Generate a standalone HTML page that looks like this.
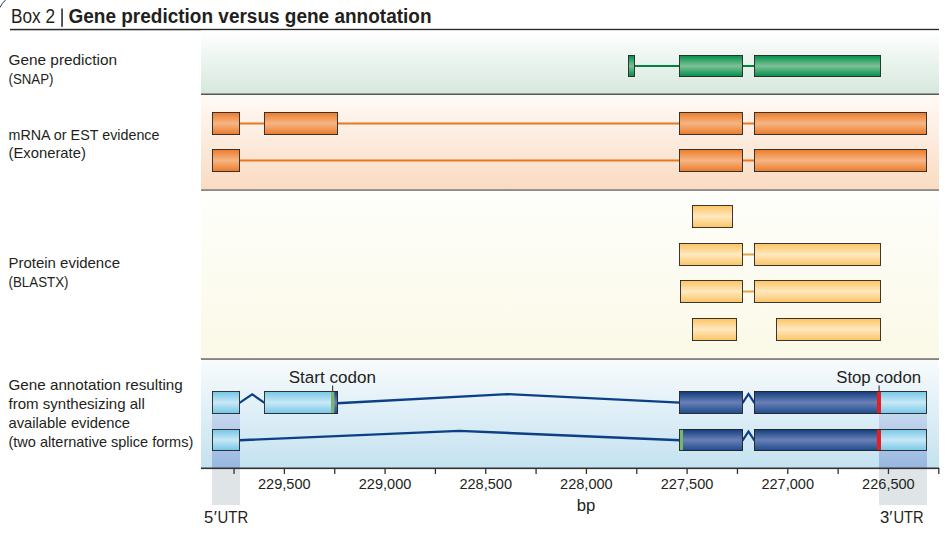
<!DOCTYPE html><html><head><meta charset="utf-8"><style>html,body{margin:0;padding:0;background:#fff;width:950px;height:536px;overflow:hidden}svg{display:block}text{font-family:"Liberation Sans",sans-serif}</style></head><body>
<svg width="950" height="536" viewBox="0 0 950 536">
<defs>
<linearGradient id="gGreen" x1="0" y1="0" x2="0" y2="1"><stop offset="0" stop-color="#008f48"/><stop offset="0.5" stop-color="#7dc197"/><stop offset="1" stop-color="#008f48"/></linearGradient>
<linearGradient id="gOrange" x1="0" y1="0" x2="0" y2="1"><stop offset="0" stop-color="#ec7b28"/><stop offset="0.5" stop-color="#f6b584"/><stop offset="1" stop-color="#ec7b28"/></linearGradient>
<linearGradient id="gYellow" x1="0" y1="0" x2="0" y2="1"><stop offset="0" stop-color="#fcc463"/><stop offset="0.5" stop-color="#ffe8bf"/><stop offset="1" stop-color="#fcc463"/></linearGradient>
<linearGradient id="gDark" x1="0" y1="0" x2="0" y2="1"><stop offset="0" stop-color="#0d3b7b"/><stop offset="0.5" stop-color="#6a80b6"/><stop offset="1" stop-color="#1a4a8c"/></linearGradient>
<linearGradient id="gLight" x1="0" y1="0" x2="0" y2="1"><stop offset="0" stop-color="#72c6e8"/><stop offset="0.5" stop-color="#c9e8f5"/><stop offset="1" stop-color="#72c6e8"/></linearGradient>
<linearGradient id="pGreen" x1="0" y1="0" x2="0" y2="1"><stop offset="0" stop-color="#ffffff"/><stop offset="1" stop-color="#d5e8dd"/></linearGradient>
<linearGradient id="pOrange" x1="0" y1="0" x2="0" y2="1"><stop offset="0" stop-color="#fffaf7"/><stop offset="1" stop-color="#f9dbc1"/></linearGradient>
<linearGradient id="pYellow" x1="0" y1="0" x2="0" y2="1"><stop offset="0" stop-color="#fefefb"/><stop offset="1" stop-color="#fbf9e7"/></linearGradient>
<linearGradient id="pBlue" x1="0" y1="0" x2="0" y2="1"><stop offset="0" stop-color="#f8fbfd"/><stop offset="1" stop-color="#c4e2f0"/></linearGradient>
<linearGradient id="utr" x1="0" y1="0" x2="0" y2="1"><stop offset="0" stop-color="#c6d7ee"/><stop offset="1" stop-color="#98b7e0"/></linearGradient>
</defs>
<path d="M0 7.5 Q2 3 5.5 0" fill="none" stroke="#333" stroke-width="1"/>
<text x="11" y="22.9" font-size="20" font-weight="normal" text-anchor="start" fill="#231f20" textLength="44" lengthAdjust="spacingAndGlyphs">Box 2</text>
<rect x="61.3" y="8.5" width="1.5" height="18.3" fill="#231f20"/>
<text x="68.5" y="22.7" font-size="20" font-weight="bold" text-anchor="start" fill="#231f20" textLength="363" lengthAdjust="spacingAndGlyphs">Gene prediction versus gene annotation</text>
<rect x="10" y="28.8" width="929" height="1.5" fill="#2a2a2a"/>
<rect x="201" y="30.5" width="738" height="63.5" fill="url(#pGreen)"/>
<rect x="201" y="95" width="738" height="94.5" fill="url(#pOrange)"/>
<rect x="201" y="191" width="738" height="167" fill="url(#pYellow)"/>
<rect x="201" y="360" width="738" height="108" fill="url(#pBlue)"/>
<rect x="201" y="93.5" width="738" height="1.5" fill="#555"/>
<rect x="201" y="189.3" width="738" height="1.5" fill="#777070"/>
<rect x="201" y="358.3" width="738" height="1.5" fill="#6a6660"/>
<text x="8.5" y="64.9" font-size="14.8" font-weight="normal" text-anchor="start" fill="#231f20" textLength="108.5" lengthAdjust="spacingAndGlyphs">Gene prediction</text>
<text x="8.5" y="84" font-size="14.8" font-weight="normal" text-anchor="start" fill="#231f20" textLength="45" lengthAdjust="spacingAndGlyphs">(SNAP)</text>
<text x="8.5" y="139.5" font-size="14.8" font-weight="normal" text-anchor="start" fill="#231f20" textLength="151" lengthAdjust="spacingAndGlyphs">mRNA or EST evidence</text>
<text x="8.5" y="158" font-size="14.8" font-weight="normal" text-anchor="start" fill="#231f20">(Exonerate)</text>
<text x="8.5" y="268" font-size="14.8" font-weight="normal" text-anchor="start" fill="#231f20" textLength="111.5" lengthAdjust="spacingAndGlyphs">Protein evidence</text>
<text x="8.5" y="287" font-size="14.8" font-weight="normal" text-anchor="start" fill="#231f20" textLength="60" lengthAdjust="spacingAndGlyphs">(BLASTX)</text>
<text x="8.5" y="389.8" font-size="14.8" font-weight="normal" text-anchor="start" fill="#231f20" textLength="174.2" lengthAdjust="spacingAndGlyphs">Gene annotation resulting</text>
<text x="8.5" y="408.8" font-size="14.8" font-weight="normal" text-anchor="start" fill="#231f20" textLength="136.3" lengthAdjust="spacingAndGlyphs">from synthesizing all</text>
<text x="8.5" y="427.7" font-size="14.8" font-weight="normal" text-anchor="start" fill="#231f20" textLength="121.5" lengthAdjust="spacingAndGlyphs">available evidence</text>
<text x="8.5" y="446.5" font-size="14.8" font-weight="normal" text-anchor="start" fill="#231f20" textLength="184.8" lengthAdjust="spacingAndGlyphs">(two alternative splice forms)</text>
<rect x="634" y="65" width="46" height="2" fill="#00843d"/>
<rect x="742" y="65" width="13" height="2" fill="#00843d"/>
<rect x="628.45" y="55.45" width="6.1" height="21.1" fill="url(#gGreen)" stroke="#262422" stroke-width="0.9"/>
<rect x="679.45" y="55.45" width="63.1" height="21.1" fill="url(#gGreen)" stroke="#262422" stroke-width="0.9"/>
<rect x="754.45" y="55.45" width="126.1" height="21.1" fill="url(#gGreen)" stroke="#262422" stroke-width="0.9"/>
<rect x="239" y="122.5" width="441" height="2" fill="#e8771f"/>
<rect x="742" y="122.5" width="13" height="2" fill="#e8771f"/>
<rect x="239" y="159.5" width="441" height="2" fill="#e8771f"/>
<rect x="742" y="159.5" width="13" height="2" fill="#e8771f"/>
<rect x="212.45" y="112.45" width="27.1" height="22.1" fill="url(#gOrange)" stroke="#262422" stroke-width="0.9"/>
<rect x="264.45" y="112.45" width="73.1" height="22.1" fill="url(#gOrange)" stroke="#262422" stroke-width="0.9"/>
<rect x="679.45" y="112.45" width="63.1" height="22.1" fill="url(#gOrange)" stroke="#262422" stroke-width="0.9"/>
<rect x="754.45" y="112.45" width="172.1" height="22.1" fill="url(#gOrange)" stroke="#262422" stroke-width="0.9"/>
<rect x="212.45" y="149.45" width="27.1" height="22.1" fill="url(#gOrange)" stroke="#262422" stroke-width="0.9"/>
<rect x="679.45" y="149.45" width="63.1" height="22.1" fill="url(#gOrange)" stroke="#262422" stroke-width="0.9"/>
<rect x="754.45" y="149.45" width="172.1" height="22.1" fill="url(#gOrange)" stroke="#262422" stroke-width="0.9"/>
<rect x="692.45" y="205.45" width="40.1" height="22.1" fill="url(#gYellow)" stroke="#262422" stroke-width="0.9"/>
<rect x="742" y="253.5" width="13" height="2" fill="#dca848"/>
<rect x="679.45" y="243.45" width="63.1" height="22.1" fill="url(#gYellow)" stroke="#262422" stroke-width="0.9"/>
<rect x="754.45" y="243.45" width="126.1" height="22.1" fill="url(#gYellow)" stroke="#262422" stroke-width="0.9"/>
<rect x="742" y="290.5" width="13" height="2" fill="#dca848"/>
<rect x="680.45" y="280.45" width="62.1" height="22.1" fill="url(#gYellow)" stroke="#262422" stroke-width="0.9"/>
<rect x="754.45" y="280.45" width="126.1" height="22.1" fill="url(#gYellow)" stroke="#262422" stroke-width="0.9"/>
<rect x="692.45" y="318.45" width="44.1" height="22.1" fill="url(#gYellow)" stroke="#262422" stroke-width="0.9"/>
<rect x="776.45" y="318.45" width="104.1" height="22.1" fill="url(#gYellow)" stroke="#262422" stroke-width="0.9"/>
<path d="M239.5 402.8 L252.2 394.3 L264.5 402.8" fill="none" stroke="#0b3f86" stroke-width="2.2" stroke-linejoin="miter"/>
<path d="M337 403.2 L507.5 394.1 L680 402.6" fill="none" stroke="#0b3f86" stroke-width="2.4"/>
<path d="M742.5 403.2 L748.5 394 L754.5 403.2" fill="none" stroke="#0b3f86" stroke-width="2.2"/>
<path d="M239.5 440.2 L459.4 430.9 L680 440.2" fill="none" stroke="#0b3f86" stroke-width="2.4"/>
<path d="M742.5 440.7 L748.5 431.5 L754.5 440.7" fill="none" stroke="#0b3f86" stroke-width="2.2"/>
<rect x="212" y="414" width="28" height="54" fill="url(#utr)"/>
<rect x="879" y="414" width="48" height="54" fill="url(#utr)"/>
<rect x="212" y="469" width="28" height="36" fill="#dfe4e6"/>
<rect x="879" y="469" width="48" height="36" fill="#dfe4e6"/>
<rect x="212.45" y="391.45" width="27.1" height="22.1" fill="url(#gLight)" stroke="#262422" stroke-width="0.9"/>
<rect x="264" y="391" width="74" height="23" fill="url(#gLight)"/>
<rect x="331" y="391" width="3.3" height="23" fill="#79b66a"/>
<rect x="334.3" y="391" width="3.7" height="23" fill="url(#gDark)"/>
<rect x="264.5" y="391.5" width="73" height="22" fill="none" stroke="#262422" stroke-width="0.9"/>
<rect x="679.45" y="391.45" width="63.1" height="22.1" fill="url(#gDark)" stroke="#262422" stroke-width="0.9"/>
<rect x="754" y="391" width="123" height="23" fill="url(#gDark)"/>
<rect x="877" y="391" width="4" height="23" fill="#e31e24"/>
<rect x="881" y="391" width="46" height="23" fill="url(#gLight)"/>
<rect x="754.5" y="391.5" width="172" height="22" fill="none" stroke="#262422" stroke-width="0.9"/>
<rect x="212.45" y="429.45" width="27.1" height="21.1" fill="url(#gLight)" stroke="#262422" stroke-width="0.9"/>
<rect x="679" y="429" width="64" height="22" fill="url(#gDark)"/>
<rect x="679" y="429" width="4" height="22" fill="#79b66a"/>
<rect x="679.5" y="429.5" width="63" height="21" fill="none" stroke="#262422" stroke-width="0.9"/>
<rect x="754" y="429" width="123" height="22" fill="url(#gDark)"/>
<rect x="877" y="429" width="4" height="22" fill="#e31e24"/>
<rect x="881" y="429" width="46" height="22" fill="url(#gLight)"/>
<rect x="754.5" y="429.5" width="172" height="21" fill="none" stroke="#262422" stroke-width="0.9"/>
<rect x="332" y="385.5" width="1.2" height="6" fill="#444"/>
<rect x="878.5" y="385.5" width="1.2" height="6" fill="#444"/>
<text x="288.7" y="383.2" font-size="16.8" font-weight="normal" text-anchor="start" fill="#231f20" textLength="87.2" lengthAdjust="spacingAndGlyphs">Start codon</text>
<text x="836.2" y="383.1" font-size="16.8" font-weight="normal" text-anchor="start" fill="#231f20" textLength="84.9" lengthAdjust="spacingAndGlyphs">Stop codon</text>
<rect x="201" y="467.5" width="738" height="1.6" fill="#333"/>
<rect x="233.40" y="468" width="1.3" height="6" fill="#333"/>
<rect x="283.74" y="468" width="1.3" height="6" fill="#333"/>
<rect x="334.08" y="468" width="1.3" height="6" fill="#333"/>
<rect x="384.42" y="468" width="1.3" height="6" fill="#333"/>
<rect x="434.76" y="468" width="1.3" height="6" fill="#333"/>
<rect x="485.10" y="468" width="1.3" height="6" fill="#333"/>
<rect x="535.44" y="468" width="1.3" height="6" fill="#333"/>
<rect x="585.78" y="468" width="1.3" height="6" fill="#333"/>
<rect x="636.12" y="468" width="1.3" height="6" fill="#333"/>
<rect x="686.46" y="468" width="1.3" height="6" fill="#333"/>
<rect x="736.80" y="468" width="1.3" height="6" fill="#333"/>
<rect x="787.14" y="468" width="1.3" height="6" fill="#333"/>
<rect x="837.48" y="468" width="1.3" height="6" fill="#333"/>
<rect x="887.82" y="468" width="1.3" height="6" fill="#333"/>
<rect x="938.16" y="468" width="1.3" height="6" fill="#333"/>
<text x="284.34" y="489" font-size="14.3" font-weight="normal" text-anchor="middle" fill="#231f20" textLength="52.6" lengthAdjust="spacingAndGlyphs">229,500</text>
<text x="385.02" y="489" font-size="14.3" font-weight="normal" text-anchor="middle" fill="#231f20" textLength="52.6" lengthAdjust="spacingAndGlyphs">229,000</text>
<text x="485.70" y="489" font-size="14.3" font-weight="normal" text-anchor="middle" fill="#231f20" textLength="52.6" lengthAdjust="spacingAndGlyphs">228,500</text>
<text x="586.38" y="489" font-size="14.3" font-weight="normal" text-anchor="middle" fill="#231f20" textLength="52.6" lengthAdjust="spacingAndGlyphs">228,000</text>
<text x="687.06" y="489" font-size="14.3" font-weight="normal" text-anchor="middle" fill="#231f20" textLength="52.6" lengthAdjust="spacingAndGlyphs">227,500</text>
<text x="787.74" y="489" font-size="14.3" font-weight="normal" text-anchor="middle" fill="#231f20" textLength="52.6" lengthAdjust="spacingAndGlyphs">227,000</text>
<text x="888.42" y="489" font-size="14.3" font-weight="normal" text-anchor="middle" fill="#231f20" textLength="52.6" lengthAdjust="spacingAndGlyphs">226,500</text>
<text x="586" y="511" font-size="16.5" font-weight="normal" text-anchor="middle" fill="#231f20" textLength="18.6" lengthAdjust="spacingAndGlyphs">bp</text>
<text x="204" y="523" font-size="17" font-weight="normal" text-anchor="start" fill="#231f20" textLength="9.3" lengthAdjust="spacingAndGlyphs">5</text>
<text x="213.8" y="523" font-size="17" font-weight="normal" text-anchor="start" fill="#231f20">′</text>
<text x="217.6" y="523" font-size="17" font-weight="normal" text-anchor="start" fill="#231f20" textLength="30.6" lengthAdjust="spacingAndGlyphs">UTR</text>
<text x="880" y="523" font-size="17" font-weight="normal" text-anchor="start" fill="#231f20" textLength="9.3" lengthAdjust="spacingAndGlyphs">3</text>
<text x="889.3" y="523" font-size="17" font-weight="normal" text-anchor="start" fill="#231f20">′</text>
<text x="893.4" y="523" font-size="17" font-weight="normal" text-anchor="start" fill="#231f20" textLength="30.2" lengthAdjust="spacingAndGlyphs">UTR</text>
</svg></body></html>
